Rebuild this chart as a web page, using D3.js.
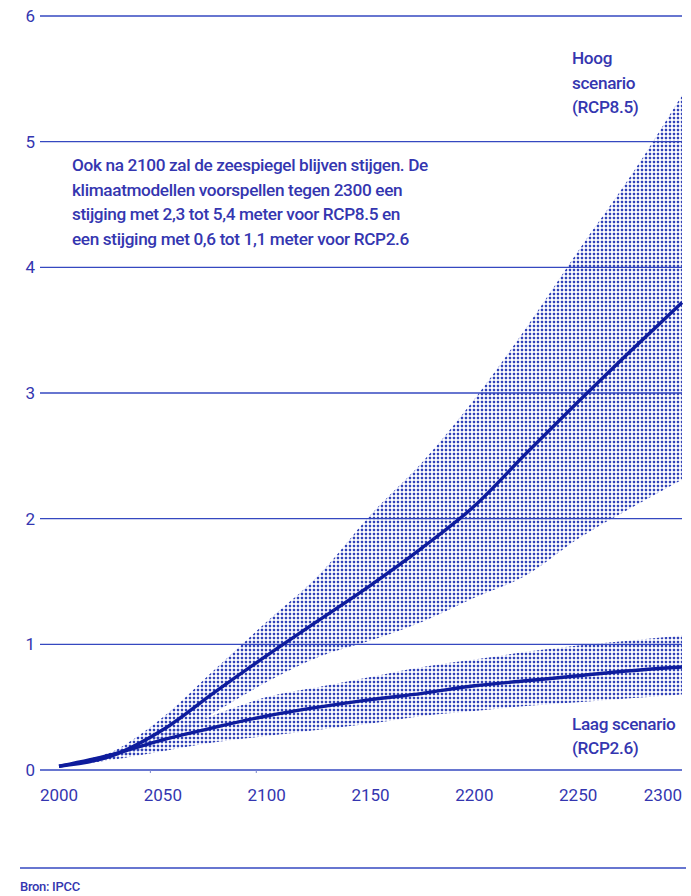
<!DOCTYPE html>
<html>
<head>
<meta charset="utf-8">
<script src="https://cdn.jsdelivr.net/npm/d3@7"></script>
<style>
  html, body { margin: 0; padding: 0; background: #fff; }
  svg { display: block; }
  text { font-family: Roboto, "Noto Sans", sans-serif; fill: #3436b0; }
</style>
</head>
<body>
<script>
// ---------- data ----------
const years = [2000, 2025, 2050, 2075, 2100, 2125, 2150, 2175, 2200, 2225, 2250, 2275, 2300];
const highMedian = [0.03, 0.11, 0.32, 0.62, 0.91, 1.19, 1.47, 1.77, 2.10, 2.52, 2.93, 3.33, 3.72];
const highUpper  = [0.03, 0.14, 0.42, 0.80, 1.18, 1.55, 2.03, 2.45, 2.95, 3.52, 4.13, 4.72, 5.37];
const highLower  = [0.03, 0.09, 0.22, 0.46, 0.70, 0.90, 1.03, 1.18, 1.37, 1.55, 1.84, 2.08, 2.31];
const lowMedian  = [0.03, 0.12, 0.24, 0.34, 0.43, 0.50, 0.56, 0.61, 0.67, 0.71, 0.75, 0.79, 0.82];
const lowUpper   = [0.03, 0.14, 0.29, 0.44, 0.58, 0.66, 0.74, 0.82, 0.88, 0.94, 0.99, 1.03, 1.07];
const lowLower   = [0.03, 0.08, 0.15, 0.22, 0.27, 0.32, 0.37, 0.43, 0.47, 0.51, 0.54, 0.57, 0.60];
const yTicks = [0, 1, 2, 3, 4, 5, 6];
const xTickLabels = [2000, 2050, 2100, 2150, 2200, 2250, 2300];
const minorTicks = [2044, 2095];
const noteLines = [
  "Ook na 2100 zal de zeespiegel blijven stijgen. De",
  "klimaatmodellen voorspellen tegen 2300 een",
  "stijging met 2,3 tot 5,4 meter voor RCP8.5 en",
  "een stijging met 0,6 tot 1,1 meter voor RCP2.6"
];
const highLabel = ["Hoog", "scenario", "(RCP8.5)"];
const lowLabel = ["Laag scenario", "(RCP2.6)"];
const sourceText = "Bron: IPCC";

// ---------- layout ----------
const W = 691, H = 896;
const gridLeft = 40, gridRight = 682;
const x = d3.scaleLinear().domain([2000, 2300]).range([59, 682]);
const y = d3.scaleLinear().domain([0, 6]).range([770, 16]);

const svg = d3.select("body").append("svg").attr("width", W).attr("height", H);

const defs = svg.append("defs");
const pat = defs.append("pattern").attr("id", "dots")
  .attr("patternUnits", "userSpaceOnUse").attr("width", 4).attr("height", 4);
pat.append("rect").attr("x", 0.8).attr("y", 0.8).attr("width", 2.4).attr("height", 2.4)
  .attr("rx", 0.6).attr("fill", "#3142b8");

// gridlines
svg.append("g").selectAll("line").data(yTicks).join("line")
  .attr("x1", gridLeft).attr("x2", gridRight)
  .attr("y1", d => y(d)).attr("y2", d => y(d))
  .attr("stroke", "#3548c0").attr("stroke-width", d => d === 0 ? 1.6 : 1.3);

// y labels
svg.append("g").selectAll("text").data(yTicks).join("text")
  .attr("x", 35).attr("y", d => y(d) + 6)
  .attr("text-anchor", "end").attr("font-size", 17)
  .text(d => d);

// minor ticks
svg.append("g").selectAll("line").data(minorTicks).join("line")
  .attr("x1", d => x(d)).attr("x2", d => x(d))
  .attr("y1", y(0)).attr("y2", y(0) + 3)
  .attr("stroke", "#7a86cc").attr("stroke-width", 1);

// x labels
svg.append("g").selectAll("text").data(xTickLabels).join("text")
  .attr("x", d => x(d))
  .attr("y", 801)
  .attr("text-anchor", d => d === 2300 ? "end" : "middle")
  .attr("font-size", 17)
  .text(d => d);

// bands
const area = (lo, hi) => d3.area()
  .x((d, i) => x(years[i]))
  .y0((d, i) => y(lo[i]))
  .y1((d, i) => y(hi[i]))
  .curve(d3.curveMonotoneX)(years);

svg.append("path").attr("d", area(highLower, highUpper)).attr("fill", "url(#dots)");
svg.append("path").attr("d", area(lowLower, lowUpper)).attr("fill", "url(#dots)");

// median lines
const line = vals => d3.line()
  .x((d, i) => x(years[i]))
  .y((d, i) => y(vals[i]))
  .curve(d3.curveMonotoneX)(years);

[highMedian, lowMedian].forEach(v => {
  svg.append("path").attr("d", line(v))
    .attr("fill", "none").attr("stroke", "#0e1c9c")
    .attr("stroke-width", 3.4).attr("stroke-linecap", "butt");
});

// annotation
svg.append("g").selectAll("text").data(noteLines).join("text")
  .attr("x", 72).attr("y", (d, i) => 171 + i * 24.5)
  .attr("font-size", 17.2).attr("letter-spacing", -0.35).attr("font-weight", 500)
  .text(d => d);

svg.append("g").selectAll("text").data(highLabel).join("text")
  .attr("x", 572).attr("y", (d, i) => 64 + i * 24.5)
  .attr("font-size", 17.2).attr("letter-spacing", -0.35).attr("font-weight", 500)
  .text(d => d);

svg.append("g").selectAll("text").data(lowLabel).join("text")
  .attr("x", 572).attr("y", (d, i) => 730 + i * 24)
  .attr("font-size", 17.2).attr("letter-spacing", -0.35).attr("font-weight", 500)
  .text(d => d);

// bottom rule and source
svg.append("line").attr("x1", 20).attr("x2", 686).attr("y1", 868).attr("y2", 868)
  .attr("stroke", "#3548c0").attr("stroke-width", 1.3);
svg.append("text").attr("x", 20).attr("y", 891).attr("font-size", 13)
  .attr("letter-spacing", -0.3).attr("font-weight", 500).text(sourceText);
</script>
</body>
</html>
